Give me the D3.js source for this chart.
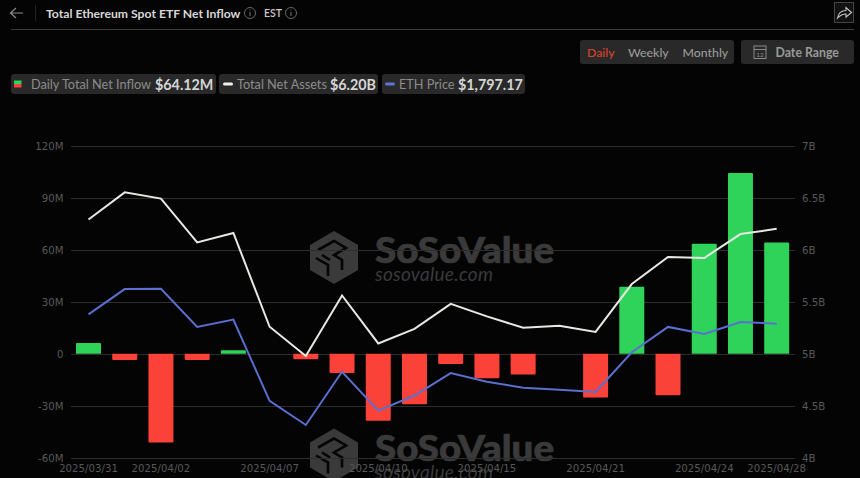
<!DOCTYPE html>
<html>
<head>
<meta charset="utf-8">
<script src="https://cdn.jsdelivr.net/npm/d3@7"></script>
<style>
  html, body { margin: 0; padding: 0; background: #040404; overflow: hidden; }
  svg { display: block; font-family: Lato, "Open Sans", sans-serif; }
  .grid line { stroke: #2d2d2d; stroke-width: 1; }
  .tick-label { fill: #585858; font-size: 10.2px; font-family: "DejaVu Sans", sans-serif; }
  .mark { fill: #3a3a3a; }
  .pill { fill: #292929; }
</style>
</head>
<body>
<svg id="chart" width="860" height="478"></svg>
<script>
"use strict"

var dates = ["2025/03/31", "2025/04/01", "2025/04/02", "2025/04/03", "2025/04/04",
  "2025/04/07", "2025/04/08", "2025/04/09", "2025/04/10", "2025/04/11",
  "2025/04/14", "2025/04/15", "2025/04/16", "2025/04/17", "2025/04/21",
  "2025/04/22", "2025/04/23", "2025/04/24", "2025/04/25", "2025/04/28"]
var dateLabels = ["2025/03/31", "2025/04/02", "2025/04/07", "2025/04/10",
  "2025/04/15", "2025/04/21", "2025/04/24", "2025/04/28"]

// daily net inflow, $M
var inflow = [6.3, -3.5, -51.1, -3.5, 2.1, 0, -3.1, -11.1, -38.6, -29,
  -5.8, -14, -11.9, 0, -25.2, 38.6, -23.8, 63.4, 104.1, 64.12]
// total net assets, $B
var assets = [6.29, 6.55, 6.49, 6.07, 6.16, 5.26, 4.98, 5.56, 5.10, 5.24,
  5.48, 5.36, 5.25, 5.27, 5.21, 5.67, 5.93, 5.92, 6.15, 6.20]
// ETH price, $
var price = [1826, 1905, 1906, 1787, 1810, 1556, 1481, 1647, 1526, 1573,
  1643, 1616, 1597, 1591, 1584, 1708, 1787, 1765, 1802, 1797.17]

var leftTicks = [-60, -30, 0, 30, 60, 90, 120]
var leftLabels = ["-60M", "-30M", "0", "30M", "60M", "90M", "120M"]
var rightTicks = [4, 4.5, 5, 5.5, 6, 6.5, 7]
var rightLabels = ["4B", "4.5B", "5B", "5.5B", "6B", "6.5B", "7B"]

var svg = d3.select("#chart")

var plot = { left: 71, right: 795, top: 145.5, bottom: 458 }

var x = d3.scaleBand().domain(dates).range([70.4, 794.8]).paddingInner(0.31).paddingOuter(0.155)
var yLeft = d3.scaleLinear().domain([-60, 120]).range([plot.bottom, plot.top])
var yRight = d3.scaleLinear().domain([4, 7]).range([plot.bottom, plot.top])
// the price axis is hidden in the original
var yPrice = d3.scaleLinear().domain([1378, 2353]).range([plot.bottom, plot.top])

function cx(d) { return x(d) + x.bandwidth() / 2 }

function drawHeader() {
  svg.append("path").attr("d", "M23 13 H11 M16 8 L10.5 13 L16 18")
    .attr("fill", "none").attr("stroke", "#8a8a8a").attr("stroke-width", 1.2)
  svg.append("line").attr("x1", 35.5).attr("x2", 35.5).attr("y1", 5).attr("y2", 21).attr("stroke", "#222")
  svg.append("text").attr("x", 46).attr("y", 17.5).attr("fill", "#d8d8d8")
    .attr("font-size", 12.2).attr("font-weight", 700).text("Total Ethereum Spot ETF Net Inflow")
  svg.append("text").attr("x", 264).attr("y", 17).attr("fill", "#c8c8c8")
    .attr("font-size", 10.5).attr("font-weight", 600).text("EST")
  drawInfo(250, 13)
  drawInfo(291, 13)
  svg.append("line").attr("x1", 11).attr("x2", 854).attr("y1", 29.5).attr("y2", 29.5).attr("stroke", "#3d3d3d")

  // share button
  svg.append("rect").attr("x", 834.5).attr("y", 2.5).attr("width", 19).attr("height", 20)
    .attr("fill", "#111").attr("stroke", "#444")
  svg.append("path").attr("d", "M837.5 18 C838.5 12.5 842 10.5 846 10.5 V7.5 L851.5 12.5 L846 17 V14 C842.5 14 840 15.5 837.5 18 Z")
    .attr("fill", "none").attr("stroke", "#c4c4c4").attr("stroke-width", 1.1)
}

function drawInfo(ix, iy) {
  svg.append("circle").attr("cx", ix).attr("cy", iy).attr("r", 5.5)
    .attr("fill", "none").attr("stroke", "#666")
  svg.append("line").attr("x1", ix).attr("x2", ix).attr("y1", iy - 1).attr("y2", iy + 3).attr("stroke", "#777")
  svg.append("circle").attr("cx", ix).attr("cy", iy - 3).attr("r", 0.6).attr("fill", "#777")
}

function drawControls() {
  svg.append("rect").attr("class", "pill").attr("x", 580).attr("y", 40).attr("width", 154).attr("height", 24).attr("rx", 3)
  svg.append("rect").attr("class", "pill").attr("x", 741).attr("y", 40).attr("width", 113).attr("height", 24).attr("rx", 3)
  var tabs = [["Daily", 587, "#d8432c"], ["Weekly", 628, "#9a9a9a"], ["Monthly", 682.5, "#9a9a9a"]]
  svg.selectAll(".tab").data(tabs).enter().append("text")
    .attr("x", function(d) { return d[1] }).attr("y", 56.5)
    .attr("fill", function(d) { return d[2] })
    .attr("font-size", 12.3).attr("font-weight", 500)
    .text(function(d) { return d[0] })
  svg.append("text").attr("x", 775.5).attr("y", 56.5).attr("fill", "#9a9a9a")
    .attr("font-size", 12.3).attr("font-weight", 700).text("Date Range")
  // calendar icon
  svg.append("rect").attr("x", 754).attr("y", 46).attr("width", 12).attr("height", 12.5)
    .attr("fill", "none").attr("stroke", "#8a8a8a")
  svg.append("line").attr("x1", 754).attr("x2", 766).attr("y1", 49.5).attr("y2", 49.5).attr("stroke", "#8a8a8a")
  svg.append("text").attr("x", 760).attr("y", 57).attr("text-anchor", "middle").attr("fill", "#8a8a8a")
    .attr("font-size", 6.5).text("12")
}

function drawLegend() {
  var pills = [[11, 205], [219, 159], [382, 143]]
  svg.selectAll(".legend-pill").data(pills).enter().append("rect").attr("class", "pill")
    .attr("x", function(d) { return d[0] }).attr("y", 74)
    .attr("width", function(d) { return d[1] }).attr("height", 20).attr("rx", 3)

  svg.append("rect").attr("x", 14).attr("y", 80.5).attr("width", 7.5).attr("height", 3.5).attr("fill", "#2fd35a")
  svg.append("rect").attr("x", 14).attr("y", 84).attr("width", 7.5).attr("height", 3.5).attr("fill", "#f04438")
  svg.append("rect").attr("x", 223).attr("y", 82.5).attr("width", 10).attr("height", 3).attr("rx", 1.5).attr("fill", "#f0f0f0")
  svg.append("rect").attr("x", 385).attr("y", 82.5).attr("width", 10).attr("height", 3).attr("rx", 1.5).attr("fill", "#5f74d8")

  var names = [["Daily Total Net Inflow", 31], ["Total Net Assets", 237], ["ETH Price", 399]]
  svg.selectAll(".legend-name").data(names).enter().append("text")
    .attr("x", function(d) { return d[1] }).attr("y", 89)
    .attr("fill", "#8c8c8c").attr("font-size", 12.7)
    .text(function(d) { return d[0] })
  var amounts = [["$64.12M", 155], ["$6.20B", 330], ["$1,797.17", 458]]
  svg.selectAll(".legend-value").data(amounts).enter().append("text")
    .attr("x", function(d) { return d[1] }).attr("y", 90)
    .attr("fill", "#d6d6d6").attr("font-size", 14.3).attr("font-weight", 700)
    .text(function(d) { return d[0] })
}

function drawWatermark(dy) {
  var g = svg.append("g").attr("transform", "translate(0," + dy + ")")
  g.append("path").attr("class", "mark")
    .attr("d", "M334 231 L358 245 L358 270 L334 284 L310 270 L310 245 Z")
  // cut-outs of the cube logo
  g.append("path").attr("fill", "none").attr("stroke", "#040404").attr("stroke-width", 2.6)
    .attr("d", "M318 250 L334 241 L346 248 L334 255 L342 260 L342 270 M316 258 L328 265 L328 276 M322 255 L330 260")
  g.append("text").attr("class", "mark").attr("x", 375).attr("y", 263)
    .attr("font-size", 36).attr("font-weight", 900)
    .attr("stroke", "#3a3a3a").attr("stroke-width", 0.7)
    .attr("textLength", 179).attr("lengthAdjust", "spacingAndGlyphs").text("SoSoValue")
  g.append("text").attr("class", "mark").attr("x", 375).attr("y", 281)
    .attr("font-size", 19).attr("font-style", "italic").attr("letter-spacing", 0.3).text("sosovalue.com")
}

function drawAxes() {
  var grid = svg.append("g").attr("class", "grid")
  grid.selectAll("line").data(leftTicks).enter().append("line")
    .attr("x1", plot.left).attr("x2", plot.right)
    .attr("y1", function(d) { return Math.round(yLeft(d)) + 0.5 })
    .attr("y2", function(d) { return Math.round(yLeft(d)) + 0.5 })

  svg.selectAll(".left-label").data(leftTicks).enter().append("text").attr("class", "tick-label")
    .attr("x", 63.5).attr("y", function(d) { return yLeft(d) + 4 })
    .attr("text-anchor", "end")
    .text(function(d, i) { return leftLabels[i] })
  svg.selectAll(".right-label").data(rightTicks).enter().append("text").attr("class", "tick-label")
    .attr("x", 802).attr("y", function(d) { return yRight(d) + 4 })
    .text(function(d, i) { return rightLabels[i] })
  svg.selectAll(".date-label").data(dateLabels).enter().append("text").attr("class", "tick-label")
    .attr("x", cx).attr("y", 472).attr("text-anchor", "middle")
    .text(function(d) { return d })
}

function drawBars() {
  svg.selectAll(".bar").data(dates).enter().append("path")
    .attr("fill", function(d, i) { return inflow[i] >= 0 ? "#2fd35a" : "#fb4238" })
    .attr("d", function(d, i) {
      if (inflow[i] === 0) return null
      var y0 = yLeft(0), y1 = yLeft(inflow[i]), s = inflow[i] > 0 ? 1 : -1
      var r = Math.min(1, Math.abs(y1 - y0) / 2)
      return "M" + x(d) + " " + y0 + " V" + (y1 + s * r) + " Q" + x(d) + " " + y1 + " " + (x(d) + r) + " " + y1 +
        " H" + (x(d) + x.bandwidth() - r) + " Q" + (x(d) + x.bandwidth()) + " " + y1 + " " + (x(d) + x.bandwidth()) + " " + (y1 + s * r) +
        " V" + y0 + " Z"
    })
}

function drawLines() {
  var assetLine = d3.line().x(function(d, i) { return cx(dates[i]) }).y(function(d) { return yRight(d) })
  var priceLine = d3.line().x(function(d, i) { return cx(dates[i]) }).y(function(d) { return yPrice(d) })
  svg.append("path").attr("d", assetLine(assets)).attr("fill", "none").attr("stroke", "#e8e8e4").attr("stroke-width", 2)
  svg.append("path").attr("d", priceLine(price)).attr("fill", "none").attr("stroke", "#5a6fd0").attr("stroke-width", 2)
}

drawHeader()
drawControls()
drawLegend()
drawWatermark(0)
drawWatermark(197.5)
drawAxes()
drawBars()
drawLines()
</script>
</body>
</html>
